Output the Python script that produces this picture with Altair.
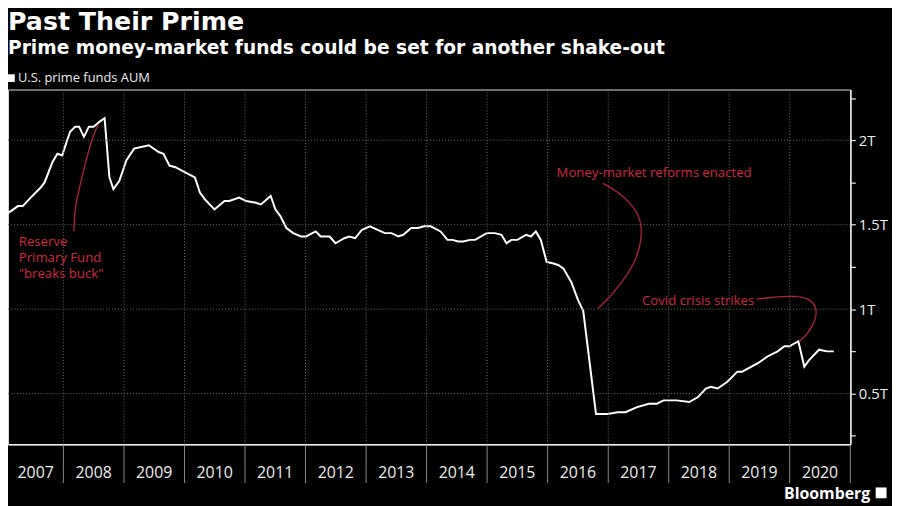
import altair as alt
import pandas as pd

# ---------------- data ----------------
dates = [
    "2007-02-03", "2007-04-02", "2007-05-01", "2007-06-18", "2007-08-17", "2007-09-10",
    "2007-10-27", "2007-11-26", "2007-12-25", "2008-01-24", "2008-02-11", "2008-03-12",
    "2008-04-05", "2008-05-04", "2008-06-03", "2008-07-02", "2008-08-07", "2008-09-06",
    "2008-10-05", "2008-10-29", "2008-12-04", "2009-01-15", "2009-03-03", "2009-05-31",
    "2009-07-29", "2009-08-27", "2009-10-02", "2009-11-07", "2010-01-05", "2010-03-05",
    "2010-04-04", "2010-05-04", "2010-07-01", "2010-08-30", "2010-09-28", "2010-11-27",
    "2011-01-08", "2011-03-08", "2011-04-07", "2011-06-05", "2011-07-04", "2011-08-03",
    "2011-09-08", "2011-10-19", "2011-12-05", "2012-01-04", "2012-03-03", "2012-04-02",
    "2012-05-26", "2012-06-30", "2012-08-22", "2012-09-21", "2012-10-27", "2012-12-07",
    "2013-01-24", "2013-04-23", "2013-06-03", "2013-07-14", "2013-08-13", "2013-09-30",
    "2013-11-10", "2013-12-16", "2014-01-26", "2014-03-26", "2014-05-07", "2014-06-06",
    "2014-07-11", "2014-08-10", "2014-09-20", "2014-10-20", "2014-12-30", "2015-02-16",
    "2015-03-29", "2015-04-28", "2015-05-27", "2015-07-02", "2015-08-24", "2015-09-23",
    "2015-10-22", "2015-11-21", "2015-12-26", "2016-02-06", "2016-03-07", "2016-04-06",
    "2016-05-05", "2016-05-23", "2016-07-04", "2016-08-03", "2016-10-19", "2016-11-17",
    "2016-12-29", "2017-02-27", "2017-04-15", "2017-06-24", "2017-09-03", "2017-10-21",
    "2017-12-01", "2018-02-17", "2018-05-05", "2018-06-27", "2018-08-13", "2018-09-12",
    "2018-10-23", "2018-12-21", "2019-02-19", "2019-03-20", "2019-06-23", "2019-08-21",
    "2019-10-20", "2019-11-30", "2019-12-30", "2020-02-22", "2020-03-29", "2020-04-28",
    "2020-06-26", "2020-08-12", "2020-09-23",
]
aum_trillions = [
    1.57, 1.61, 1.61, 1.66, 1.72, 1.75,
    1.87, 1.92, 1.91, 2.00, 2.05, 2.08,
    2.08, 2.02, 2.08, 2.08, 2.11, 2.13,
    1.78, 1.71, 1.76, 1.88, 1.95, 1.97,
    1.93, 1.92, 1.85, 1.84, 1.81, 1.78,
    1.69, 1.65, 1.59, 1.64, 1.64, 1.66,
    1.64, 1.63, 1.62, 1.67, 1.59, 1.55,
    1.48, 1.45, 1.43, 1.43, 1.46, 1.43,
    1.43, 1.39, 1.42, 1.43, 1.42, 1.47,
    1.49, 1.45, 1.45, 1.43, 1.44, 1.48,
    1.48, 1.49, 1.49, 1.46, 1.41, 1.41,
    1.40, 1.40, 1.41, 1.41, 1.45, 1.45,
    1.44, 1.39, 1.41, 1.41, 1.44, 1.43,
    1.46, 1.41, 1.28, 1.27, 1.26, 1.24,
    1.19, 1.16, 1.05, 0.99, 0.38, 0.38,
    0.38, 0.39, 0.39, 0.42, 0.44, 0.44,
    0.46, 0.46, 0.45, 0.48, 0.53, 0.54,
    0.53, 0.57, 0.63, 0.63, 0.68, 0.72,
    0.75, 0.78, 0.78, 0.81, 0.66, 0.70,
    0.76, 0.75, 0.75,
]

# y-axis ticks / gridlines
y_ticks = [0.25, 0.5, 0.75, 1.0, 1.25, 1.5, 1.75, 2.0, 2.25]
y_grid = [0.5, 1.0, 1.5, 2.0]
years = list(range(2007, 2021))

# annotation texts
ann_labels = ["Reserve\nPrimary Fund\n\"breaks buck\"", "Money-market reforms enacted", "Covid crisis strikes"]
ann_dates = ["2007-04-07", "2016-02-24", "2017-07-24"]
ann_values = [1.376, 1.782, 1.024]

# annotation connector curves
reserve_dates = ["2008-03-05", "2008-03-08", "2008-03-14", "2008-04-04", "2008-05-03",
                 "2008-06-02", "2008-07-05", "2008-07-31"]
reserve_vals = [1.461, 1.541, 1.608, 1.706, 1.824, 1.941, 2.041, 2.094]
reform_dates = ["2016-11-29", "2017-02-26", "2017-05-16", "2017-07-04", "2017-07-24",
                "2017-07-14", "2017-06-05", "2017-03-17", "2016-12-29", "2016-10-30"]
reform_vals = [1.745, 1.696, 1.628, 1.559, 1.481, 1.372, 1.265, 1.147, 1.059, 1.004]
covid_dates = ["2019-06-16", "2019-10-22", "2020-01-29", "2020-04-28", "2020-06-13",
               "2020-06-07", "2020-04-28", "2020-02-28"]
covid_vals = [1.059, 1.075, 1.078, 1.065, 1.010, 0.941, 0.863, 0.808]

# ---------------- tables ----------------
series = pd.DataFrame({"date": dates, "aum": aum_trillions})

curves = pd.concat([
    pd.DataFrame({"date": d, "v": v, "id": name, "seq": range(len(d))})
    for name, d, v in [("reserve", reserve_dates, reserve_vals),
                       ("reform", reform_dates, reform_vals),
                       ("covid", covid_dates, covid_vals)]
])
ann = pd.DataFrame({"date": ann_dates, "v": ann_values, "label": ann_labels})

dom_start = pd.Timestamp("2007-02-01")
dom_end = pd.Timestamp("2021-01-01")
bounds = pd.DataFrame({"date": [f"{y}-01-01" for y in years[1:]] + ["2021-01-01"]})
vgrid = pd.DataFrame({"date": [f"{y}-01-01" for y in years[1:]]})
mids = []
for y in years:
    s = max(pd.Timestamp(f"{y}-01-01"), dom_start)
    e = min(pd.Timestamp(f"{y + 1}-01-01"), dom_end)
    mids.append((s + (e - s) / 2).strftime("%Y-%m-%d"))
year_lab = pd.DataFrame({"date": mids, "label": [str(y) for y in years]})
hgrid = pd.DataFrame({"v": y_grid})

# ---------------- chart ----------------
W, H = 850, 358
FONT = "Open Sans"
TFONT = "DejaVu Sans"
RED_TXT = "#d3263f"
RED_LINE = "#b3213a"
GRID = "#6e6e6e"
FG = "#ededed"

xs = alt.Scale(type="utc",
               domain=[alt.DateTime(year=2007, month=2, date=1, utc=True),
                       alt.DateTime(year=2021, month=1, date=1, utc=True)])
ys = alt.Scale(domain=[0.2, 2.3], nice=False, zero=False)

x_axis = alt.Axis(orient="bottom", labels=False, ticks=False, grid=False, title=None,
                  domainColor=FG, domainWidth=1.5)
y_axis = alt.Axis(orient="right", values=y_ticks, grid=False, title=None,
                  labelExpr="datum.value % 0.5 == 0 ? datum.value + 'T' : ''",
                  tickSize=5, tickColor=FG, tickWidth=1.2, domainColor=FG, domainWidth=1.5,
                  labelColor=FG, labelFontSize=15, labelFont=FONT, labelPadding=3)

line = alt.Chart(series).mark_line(color="#ffffff", strokeWidth=2).encode(
    x=alt.X("date:T", scale=xs, axis=x_axis),
    y=alt.Y("aum:Q", scale=ys, axis=y_axis),
)

vgrid_l = alt.Chart(vgrid).mark_rule(color=GRID, strokeDash=[1, 2], strokeWidth=1).encode(
    x=alt.X("date:T", scale=xs))
hgrid_l = alt.Chart(hgrid).mark_rule(color=GRID, strokeDash=[1, 2], strokeWidth=1).encode(
    y=alt.Y("v:Q", scale=ys))

curve_l = alt.Chart(curves).mark_line(color=RED_LINE, strokeWidth=1.3, interpolate="basis").encode(
    x=alt.X("date:T", scale=xs), y=alt.Y("v:Q", scale=ys), detail="id:N", order="seq:Q")

ann_l = alt.Chart(ann).mark_text(color=RED_TXT, font=FONT, fontSize=13.3, align="left",
                                 baseline="alphabetic", lineBreak="\n", lineHeight=16.5).encode(
    x=alt.X("date:T", scale=xs), y=alt.Y("v:Q", scale=ys), text="label:N")

sep_l = alt.Chart(bounds).mark_rule(color="#8a8a8a", strokeWidth=1).encode(
    x=alt.X("date:T", scale=xs), y=alt.value(H + 1), y2=alt.value(H + 39))

year_l = alt.Chart(year_lab).mark_text(color=FG, font=FONT, fontSize=16, align="center",
                                       baseline="alphabetic").encode(
    x=alt.X("date:T", scale=xs), y=alt.value(H + 33.5), text="label:N")

# header texts, legend and logo
title_l = alt.Chart(pd.DataFrame({"t": ["Past Their Prime"]})).mark_text(
    color="#ffffff", font=TFONT, fontSize=25.5, fontWeight="bold", align="left", baseline="alphabetic"
).encode(x=alt.value(0), y=alt.value(-60), text="t:N")
sub_l = alt.Chart(pd.DataFrame({"t": ["Prime money-market funds could be set for another shake-out"]})).mark_text(
    color="#ffffff", font=TFONT, fontSize=18.8, fontWeight="bold", align="left", baseline="alphabetic"
).encode(x=alt.value(0), y=alt.value(-36), text="t:N")
leg_sq = alt.Chart(pd.DataFrame({"t": ["U.S. prime funds AUM"]})).mark_square(
    color="#ffffff", size=60, opacity=1, filled=True
).encode(x=alt.value(3), y=alt.value(-11.5))
leg_tx = alt.Chart(pd.DataFrame({"t": ["U.S. prime funds AUM"]})).mark_text(
    color=FG, font=FONT, fontSize=13, align="left", baseline="alphabetic"
).encode(x=alt.value(10), y=alt.value(-7.5), text="t:N")
logo_tx = alt.Chart(pd.DataFrame({"t": ["Bloomberg"]})).mark_text(
    color="#ffffff", font=FONT, fontSize=16, fontWeight="bold", align="right", baseline="alphabetic"
).encode(x=alt.value(W + 20), y=alt.value(H + 55), text="t:N")
logo_ic = alt.Chart(pd.DataFrame({"t": ["icon"]})).mark_square(
    color="#ffffff", size=120, opacity=1, filled=True
).encode(x=alt.value(W + 31), y=alt.value(H + 49))

chart = alt.layer(
    line, vgrid_l, hgrid_l, curve_l, ann_l, sep_l, year_l,
    title_l, sub_l, leg_sq, leg_tx, logo_tx, logo_ic,
).properties(
    width=W, height=H,
    padding={"left": 0, "top": 80, "right": 42, "bottom": 60},
    autosize=alt.AutoSizeParams(type="none"),
    background="#000000",
).configure_view(strokeWidth=0).configure(font=FONT)

chart.save("out.html", embed_options={"renderer": "svg", "actions": False})
